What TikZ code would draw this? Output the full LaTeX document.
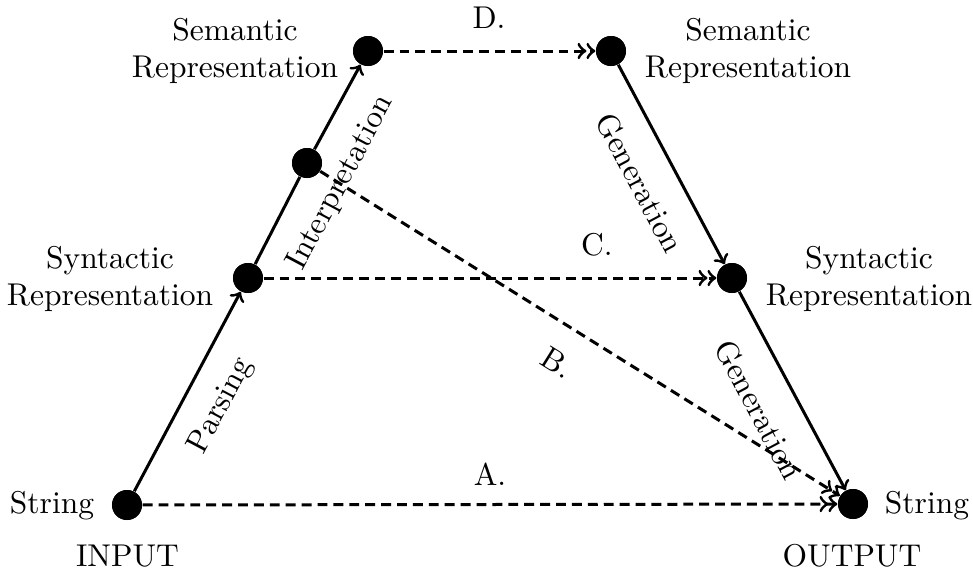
\documentclass[tikz,border=0pt]{standalone}
\usetikzlibrary{arrows}
\begin{document}
\begin{tikzpicture}[x=0.3333pt, y=-0.3333pt,
  font=\fontsize{10.5}{12.6}\selectfont,
  dot/.style={circle, fill=black, draw=none, inner sep=0pt, minimum size=10pt},
  lbl/.style={align=center, inner sep=0pt},
  solidarrow/.style={line width=1pt, ->},
  dasharrow/.style={line width=1pt, ->>, dash pattern=on 3.3pt off 2pt}]
\useasboundingbox (0,0) rectangle (973,574);
% dots
\node[dot] (in)   at (127,505) {};
\node[dot] (out)  at (853,504) {};
\node[dot] (synL) at (248,278) {};
\node[dot] (synR) at (732,278) {};
\node[dot] (semL) at (368,51) {};
\node[dot] (semR) at (611,51) {};
\node[dot] (mid)  at (307,163) {};
% solid connectors
\draw[solidarrow] (in) -- (synL);
\draw[line width=1pt] (synL) -- (mid);
\draw[solidarrow] (mid) -- (semL);
\draw[solidarrow] (semR) -- (synR);
\draw[solidarrow] (synR) -- (out);
% dashed connectors
\draw[dasharrow] (in) -- (out);
\draw[dasharrow] (synL) -- (synR);
\draw[dasharrow] (semL) -- (semR);
\draw[dasharrow] (mid) -- (out);
% redraw dots on top
\foreach \p in {(127,505), (853,504), (248,278), (732,278), (368,51), (611,51), (307,163)}
  \fill \p circle (5pt);
% node texts
\node[lbl] (tSemL) at (235,51) {Semantic\\Representation};
\node[lbl] (tSemR) at (748,51) {Semantic\\Representation};
\node[lbl] (tSynL) at (110,279) {Syntactic\\Representation};
\node[lbl] (tSynR) at (869,279) {Syntactic\\Representation};
\node[lbl] (tStrL) at (52,506) {String};
\node[lbl] (tStrR) at (927,506) {String};
\node[lbl] (tIn)  at (127.5,556) {INPUT};
\node[lbl] (tOut) at (852,556) {OUTPUT};
% edge labels
\node[lbl] (lA) at (490,474) {A.};
\node[lbl] (lC) at (597,245) {C.};
\node[lbl] (lD) at (489,18) {D.};
\node[lbl, rotate=-32] (lB) at (557,363) {B.};
\node[lbl, rotate=62] (lP) at (221,406) {Parsing};
\node[lbl, rotate=62] (lI) at (341,183) {Interpretation};
\node[lbl, rotate=-62] (lG1) at (640,183) {Generation};
\node[lbl, rotate=-62] (lG2) at (759,410) {Generation};
\end{tikzpicture}
\end{document}
